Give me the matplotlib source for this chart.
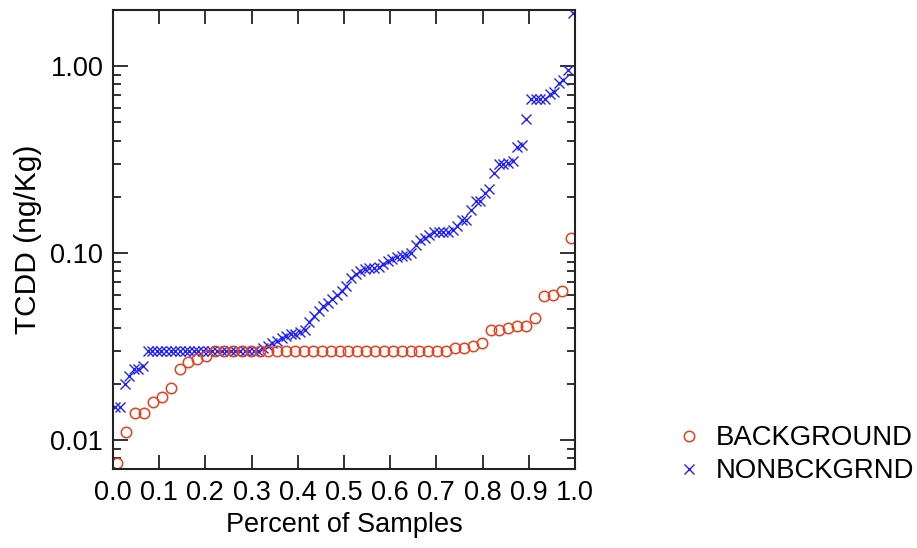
import matplotlib
matplotlib.use('Agg')
import matplotlib.pyplot as plt
from matplotlib.ticker import FixedLocator, LogLocator, NullFormatter


# sorted TCDD concentrations (ng/Kg) for each group
background = [
    0.0075, 0.011, 0.014, 0.014, 0.016, 0.017, 0.019, 0.024, 0.026, 0.027,
    0.028, 0.030, 0.030, 0.030, 0.030, 0.030, 0.030, 0.030, 0.030, 0.030,
    0.030, 0.030, 0.030, 0.030, 0.030, 0.030, 0.030, 0.030, 0.030, 0.030,
    0.030, 0.030, 0.030, 0.030, 0.030, 0.030, 0.030, 0.030, 0.031, 0.031,
    0.032, 0.033, 0.039, 0.039, 0.040, 0.041, 0.041, 0.045, 0.059, 0.060,
    0.063, 0.12]

nonbckgrnd = [
    0.015, 0.015, 0.020, 0.022, 0.024, 0.024, 0.025, 0.030, 0.030, 0.030,
    0.030, 0.030, 0.030, 0.030, 0.030, 0.030, 0.030, 0.030, 0.030, 0.030,
    0.030, 0.030, 0.030, 0.030, 0.030, 0.030, 0.030, 0.030, 0.030, 0.030,
    0.030, 0.030, 0.031, 0.032, 0.033, 0.034, 0.035, 0.036, 0.037, 0.037,
    0.038, 0.039, 0.043, 0.046, 0.049, 0.052, 0.054, 0.057, 0.060, 0.063,
    0.067, 0.074, 0.077, 0.080, 0.082, 0.083, 0.083, 0.084, 0.088, 0.091,
    0.093, 0.095, 0.096, 0.098, 0.10, 0.11, 0.117, 0.12, 0.125, 0.13,
    0.13, 0.13, 0.13, 0.133, 0.14, 0.15, 0.15, 0.17, 0.19, 0.19,
    0.21, 0.22, 0.27, 0.30, 0.30, 0.305, 0.31, 0.37, 0.38, 0.52,
    0.67, 0.67, 0.67, 0.67, 0.71, 0.73, 0.81, 0.84, 0.95, 1.93]

xTicks = [0.0, 0.1, 0.2, 0.3, 0.4, 0.5, 0.6, 0.7, 0.8, 0.9, 1.0]
yTicks = [0.01, 0.10, 1.00]
yTickLabels = ['0.01', '0.10', '1.00']


def plotting_positions(values):
    # fraction of samples at or below each sorted value
    n = len(values)
    return [(i + 0.5) / n for i in range(n)]


plt.rcParams['font.family'] = ['Liberation Sans', 'DejaVu Sans']

fig = plt.figure(figsize=(9.17, 5.48), dpi=100)
ax = fig.add_axes([0.1232, 0.1442, 0.5038, 0.8376])

nb = ax.plot(plotting_positions(nonbckgrnd), nonbckgrnd, linestyle='none',
             marker='x', markersize=7.5, markeredgewidth=1.0,
             color='#2222f2', label='NONBCKGRND')[0]
bg = ax.plot(plotting_positions(background), background, linestyle='none',
             marker='o', markersize=7.5, markeredgewidth=1.1,
             markerfacecolor='none', markeredgecolor='#e8401c',
             label='BACKGROUND')[0]

ax.set_yscale('log')
ax.set_xlim(0.0, 1.0)
ax.set_ylim(0.007, 2.0)

ax.xaxis.set_major_locator(FixedLocator(xTicks))
ax.set_xticklabels(['{:.1f}'.format(t) for t in xTicks])
ax.yaxis.set_major_locator(FixedLocator(yTicks))
ax.set_yticklabels(yTickLabels)
ax.yaxis.set_minor_locator(LogLocator(base=10, subs=range(2, 10)))
ax.yaxis.set_minor_formatter(NullFormatter())
ax.xaxis.set_minor_locator(FixedLocator([]))

ax.tick_params(axis='x', which='major', direction='in', length=10, width=1.3,
               top=True, labelsize=19.5, pad=8, color='#222222')
ax.tick_params(axis='y', which='major', direction='in', length=11, width=1.3,
               right=True, labelsize=19.5, pad=7, color='#222222')
ax.tick_params(axis='y', which='minor', direction='in', length=5.5,
               width=1.3, right=True, color='#222222')
for spine in ax.spines.values():
    spine.set_linewidth(1.5)
    spine.set_color('#222222')

ax.set_xlabel('Percent of Samples', fontsize=19.5, labelpad=4)
ax.set_ylabel('TCDD (ng/Kg)', fontsize=21.5, labelpad=6)

fig.legend(handles=[bg, nb], loc='center left',
           bbox_to_anchor=(0.736, 0.170), frameon=False, fontsize=19.8,
           handlelength=1.0, handletextpad=0.5, labelspacing=0.25,
           borderpad=0, borderaxespad=0)

fig.savefig('out.png', dpi=100)
plt.close()
